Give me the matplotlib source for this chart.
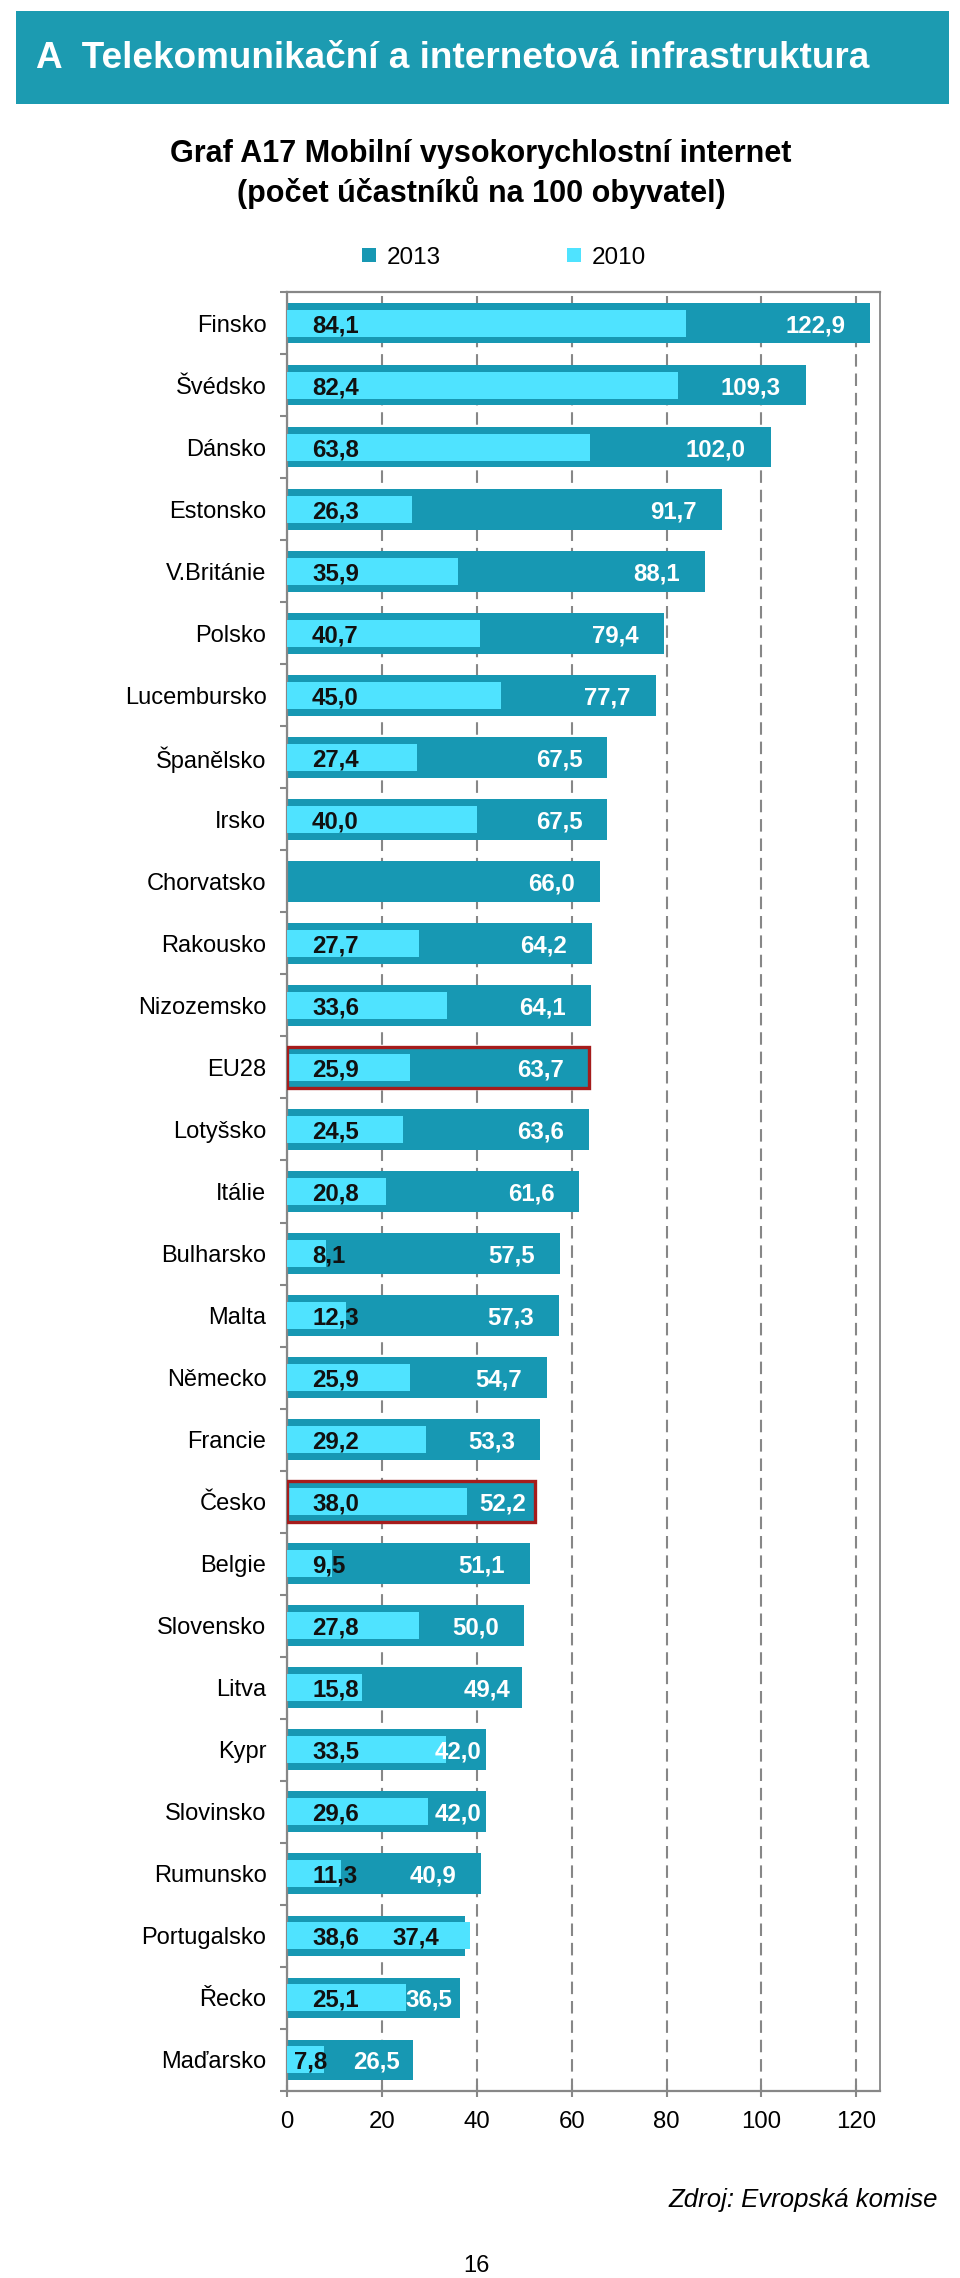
import numpy as np
import matplotlib
matplotlib.use("Agg")
import matplotlib.pyplot as plt
from matplotlib.patches import Rectangle

plt.rcParams['font.family'] = ['Liberation Sans', 'DejaVu Sans']

# ---- data ----
countries = ["Finsko", "Švédsko", "Dánsko", "Estonsko", "V.Británie", "Polsko",
             "Lucembursko", "Španělsko", "Irsko", "Chorvatsko", "Rakousko",
             "Nizozemsko", "EU28", "Lotyšsko", "Itálie", "Bulharsko", "Malta",
             "Německo", "Francie", "Česko", "Belgie", "Slovensko", "Litva",
             "Kypr", "Slovinsko", "Rumunsko", "Portugalsko", "Řecko", "Maďarsko"]
values_2013 = [122.9, 109.3, 102.0, 91.7, 88.1, 79.4, 77.7, 67.5, 67.5, 66.0,
               64.2, 64.1, 63.7, 63.6, 61.6, 57.5, 57.3, 54.7, 53.3, 52.2,
               51.1, 50.0, 49.4, 42.0, 42.0, 40.9, 37.4, 36.5, 26.5]
values_2010 = [84.1, 82.4, 63.8, 26.3, 35.9, 40.7, 45.0, 27.4, 40.0, np.nan,
               27.7, 33.6, 25.9, 24.5, 20.8, 8.1, 12.3, 25.9, 29.2, 38.0,
               9.5, 27.8, 15.8, 33.5, 29.6, 11.3, 38.6, 25.1, 7.8]
highlighted = ["EU28", "Česko"]
series_labels = ["2013", "2010"]
x_ticks = [0, 20, 40, 60, 80, 100, 120]

# ---- style ----
W, H, DPI = 960, 2278, 100
TEAL = '#1798B3'
CYAN = '#4FE3FF'
HEADER = '#1C9BB1'
GRAY = '#878787'
RED = '#A51C1C'

fig = plt.figure(figsize=(W / DPI, H / DPI), dpi=DPI)

def fx(px):
    return px / W

def fy(py):
    return 1 - py / H

# header band
fig.patches.append(Rectangle((fx(16), fy(104)), fx(949) - fx(16), fy(11) - fy(104),
                             transform=fig.transFigure, facecolor=HEADER,
                             edgecolor='none', zorder=0))
fig.text(fx(36), fy(68), "A  Telekomunikační a internetová infrastruktura",
         color='white', fontsize=26.6, fontweight='bold', va='baseline', ha='left')

# title
fig.text(fx(481), fy(162), "Graf A17 Mobilní vysokorychlostní internet",
         fontsize=22, fontweight='bold', ha='center', va='baseline')
fig.text(fx(481), fy(202), "(počet účastníků na 100 obyvatel)",
         fontsize=22, fontweight='bold', ha='center', va='baseline')

# axes
ax = fig.add_axes([fx(287.3), fy(2090.7), fx(880) - fx(287.3), fy(292.3) - fy(2090.7)])
y = np.arange(len(countries))
v13 = np.array(values_2013)
v10 = np.array(values_2010)

b13 = ax.barh(y, v13, height=0.65, color=TEAL, zorder=2, label=series_labels[0])
mask = ~np.isnan(v10)
b10 = ax.barh(y[mask], v10[mask], height=0.43, color=CYAN, zorder=3, label=series_labels[1])

# highlight boxes
hi = np.array([c in highlighted for c in countries])
ax.barh(y[hi], v13[hi], height=0.65, fill=False, edgecolor=RED, linewidth=2.4, zorder=4)

ax.set_xlim(0, 125)
ax.set_ylim(len(countries) - 0.5, -0.5)
ax.set_xticks(x_ticks)
ax.set_xticklabels([str(t) for t in x_ticks])
ax.set_yticks(y)
ax.set_yticklabels(countries)
ax.set_yticks(np.arange(-0.5, len(countries), 1.0), minor=True)

ax.tick_params(axis='y', which='major', length=0, pad=15, labelsize=17)
ax.tick_params(axis='y', which='minor', length=5, width=1.5, color=GRAY, direction='out')
ax.tick_params(axis='x', which='major', length=8.6, width=1.5, color=GRAY,
               direction='inout', pad=10, labelsize=17.3)

ax.xaxis.grid(True, color=GRAY, linewidth=1.5, linestyle=(0, (6, 3.3)), zorder=0)
ax.set_axisbelow(True)
for side in ['left', 'top', 'bottom', 'right']:
    ax.spines[side].set_color(GRAY)
    ax.spines[side].set_linewidth(1.6)
ax.spines['right'].set_linewidth(1.3)

def fmt(v):
    return f"{v:.1f}".replace('.', ',')

# label offsets (points)
base_off_2010 = 17.8
special_off_2010 = {"Maďarsko": 4.8}
base_gap_2013 = 18.0
special_gap_2013 = {"Česko": 6.5, "Litva": 7.7, "Kypr": 4.0, "Slovinsko": 4.0,
                    "Řecko": 6.1, "Maďarsko": 9.4}
dy = -6.3

for i, c in enumerate(countries):
    if not np.isnan(v10[i]):
        ax.annotate(fmt(v10[i]), xy=(0, i), xytext=(special_off_2010.get(c, base_off_2010), dy),
                    textcoords='offset points', ha='left', va='baseline',
                    fontsize=17.3, fontweight='bold', color='#111111', zorder=5)
    col = '#111111' if (not np.isnan(v10[i]) and v10[i] > v13[i]) else 'white'
    ax.annotate(fmt(v13[i]), xy=(v13[i], i), xytext=(-special_gap_2013.get(c, base_gap_2013), dy),
                textcoords='offset points', ha='right', va='baseline',
                fontsize=17.3, fontweight='bold', color=col, zorder=5)

# legend
fig.legend(handles=[b13, b10], labels=series_labels, loc='center',
           bbox_to_anchor=(fx(504), fy(257.5)), ncol=2, frameon=False,
           fontsize=17.5, handlelength=0.55, handleheight=0.55,
           handletextpad=0.45, columnspacing=5.2, borderaxespad=0)

# source and page number
fig.text(fx(938), fy(2200), "Zdroj: Evropská komise", fontsize=18.5, style='italic',
         ha='right', va='center')
fig.text(fx(476), fy(2266), "16", fontsize=17, ha='center', va='center')

fig.savefig("out.png", dpi=DPI)
